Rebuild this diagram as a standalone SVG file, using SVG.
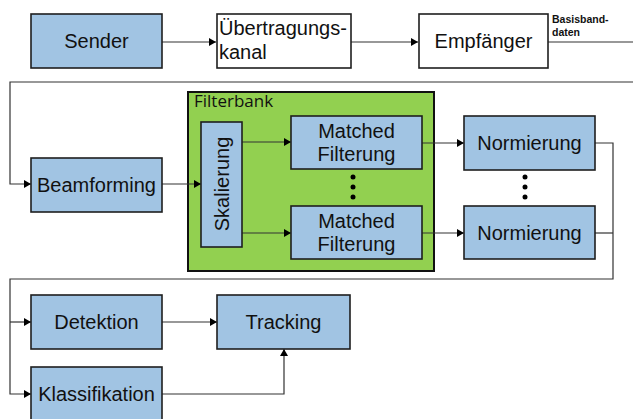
<svg xmlns="http://www.w3.org/2000/svg" width="633" height="419" viewBox="0 0 633 419">
<style>
.box{fill:#a1c4e3;stroke:#1e1e1e;stroke-width:1.6}
.wbox{fill:#ffffff;stroke:#1e1e1e;stroke-width:1.6}
.t{font-family:"Liberation Sans",Arial,sans-serif;font-size:20px;fill:#111}
.c{text-anchor:middle}
.ln{fill:none;stroke:#333;stroke-width:1.2}
.dot{fill:#000}
.bb{font-family:"Liberation Sans",Arial,sans-serif;font-size:10.5px;font-weight:bold;fill:#111}
</style>
<defs>
<marker id="ah" markerWidth="7" markerHeight="8" refX="7" refY="4" orient="auto" markerUnits="userSpaceOnUse">
<path d="M0,0 L7,4 L0,8 z" fill="#000"/>
</marker>
</defs>
<rect width="633" height="419" fill="#fff"/>
<g id="filterbank">
<rect x="188" y="92" width="246" height="179" fill="#92d050" stroke="#111" stroke-width="2"/>
<text x="194" y="107" font-family="'Open Sans','Noto Sans',sans-serif" font-size="17" fill="#111">Filterbank</text>
</g>
<g id="connectors">
<line class="ln" x1="162" y1="42" x2="216" y2="42" marker-end="url(#ah)"/>
<line class="ln" x1="351" y1="42" x2="418" y2="42" marker-end="url(#ah)"/>
<line class="ln" x1="548" y1="42" x2="633" y2="42"/>
<polyline class="ln" points="633,82 10,82 10,184 31,184" marker-end="url(#ah)"/>
<line class="ln" x1="162" y1="184" x2="201" y2="184" marker-end="url(#ah)"/>
<line class="ln" x1="242" y1="142" x2="291" y2="142" marker-end="url(#ah)"/>
<line class="ln" x1="242" y1="233" x2="291" y2="233" marker-end="url(#ah)"/>
<line class="ln" x1="422" y1="143" x2="464" y2="143" marker-end="url(#ah)"/>
<line class="ln" x1="422" y1="233" x2="464" y2="233" marker-end="url(#ah)"/>
<polyline class="ln" points="595,143 613,143 613,279 10,279 10,394 31,394" marker-end="url(#ah)"/>
<line class="ln" x1="595" y1="233" x2="613" y2="233"/>
<line class="ln" x1="10" y1="322" x2="31" y2="322" marker-end="url(#ah)"/>
<line class="ln" x1="162" y1="322" x2="217" y2="322" marker-end="url(#ah)"/>
<polyline class="ln" points="162,394 284,394 284,349" marker-end="url(#ah)"/>
</g>
<g id="sender"><rect class="box" x="31" y="14" width="131" height="54"/><text class="t c" x="96.5" y="48">Sender</text></g>
<g id="kanal"><rect class="wbox" x="217" y="14" width="134" height="54"/><text class="t" x="219" y="35">Übertragungs-</text><text class="t" x="219" y="59">kanal</text></g>
<g id="empfaenger"><rect class="wbox" x="419" y="14" width="129" height="54"/><text class="t c" x="483.5" y="48">Empfänger</text></g>
<g id="basisband"><text class="bb" x="552" y="23">Basisband-</text><text class="bb" x="552" y="36">daten</text></g>
<g id="beamforming"><rect class="box" x="31" y="158" width="131" height="54"/><text class="t c" x="96.5" y="192">Beamforming</text></g>
<g id="skalierung"><rect class="box" x="201" y="122" width="41" height="125"/><text class="t c" transform="translate(228.5,184) rotate(-90)">Skalierung</text></g>
<g id="mf1"><rect class="box" x="291" y="116" width="131" height="53"/><text class="t c" x="356.5" y="138">Matched</text><text class="t c" x="356.5" y="161">Filterung</text></g>
<g id="mf2"><rect class="box" x="291" y="206" width="131" height="53"/><text class="t c" x="356.5" y="228">Matched</text><text class="t c" x="356.5" y="251">Filterung</text></g>
<g id="dots1"><circle class="dot" cx="353" cy="177" r="2.5"/><circle class="dot" cx="353" cy="187" r="2.5"/><circle class="dot" cx="353" cy="197" r="2.5"/></g>
<g id="norm1"><rect class="box" x="464" y="116" width="131" height="54"/><text class="t c" x="529.5" y="150">Normierung</text></g>
<g id="norm2"><rect class="box" x="464" y="206" width="131" height="53"/><text class="t c" x="529.5" y="240">Normierung</text></g>
<g id="dots2"><circle class="dot" cx="525" cy="177" r="2.5"/><circle class="dot" cx="525" cy="187" r="2.5"/><circle class="dot" cx="525" cy="197" r="2.5"/></g>
<g id="detektion"><rect class="box" x="31" y="295" width="131" height="54"/><text class="t c" x="96.5" y="329">Detektion</text></g>
<g id="tracking"><rect class="box" x="217" y="295" width="133" height="54"/><text class="t c" x="283.5" y="329">Tracking</text></g>
<g id="klassifikation"><rect class="box" x="31" y="367" width="131" height="56"/><text class="t c" x="96.5" y="401">Klassifikation</text></g>
</svg>
